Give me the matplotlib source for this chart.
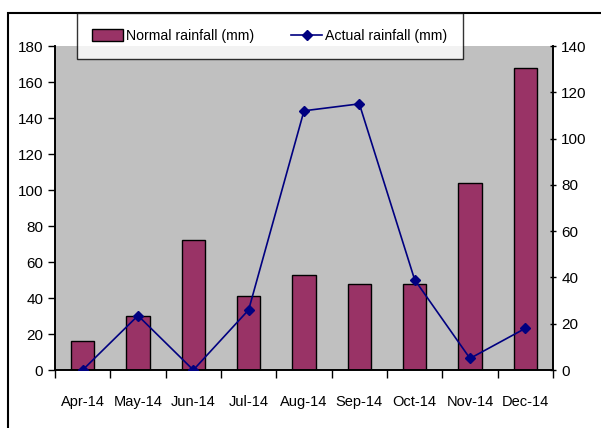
import matplotlib.pyplot as plt
import numpy as np
from matplotlib.patches import Rectangle

months = ['Apr-14', 'May-14', 'Jun-14', 'Jul-14', 'Aug-14', 'Sep-14', 'Oct-14', 'Nov-14', 'Dec-14']
normal_rain = [16, 30, 72, 41, 53, 48, 48, 104, 168]
actual_rain = [0, 23.5, 0, 26, 112, 115, 39, 5, 18]

plt.rcParams['font.family'] = ['Liberation Sans', 'DejaVu Sans']

fig = plt.figure(figsize=(6.01, 4.28), dpi=100)
ax = fig.add_axes([55 / 601, 1 - 370 / 428, (553 - 55) / 601, (370 - 46) / 428])
ax2 = ax.twinx()

x = np.arange(len(months))
bars = ax.bar(x, normal_rain, width=0.42, color='#993366', edgecolor='black',
              linewidth=1, label='Normal rainfall (mm)', zorder=2)
line, = ax2.plot(x, actual_rain, color='#000080', marker='D', markersize=5,
                 linewidth=1.2, label='Actual rainfall (mm)', zorder=3)

ax.set_facecolor('#C0C0C0')
ax.set_xlim(-0.5, len(months) - 0.5)
ax.set_ylim(0, 180)
ax.set_yticks(range(0, 181, 20))
ax2.set_ylim(0, 140)
ax2.set_yticks(range(0, 141, 20))

ax.set_xticks(x)
ax.set_xticklabels(months, fontsize=10.5)
ax.set_xticks(np.arange(-0.5, len(months)), minor=True)
ax.tick_params(axis='x', which='major', length=0, pad=18)
ax.tick_params(axis='x', which='minor', length=6, direction='out', width=1)
ax.tick_params(axis='y', labelsize=11, length=5, width=1, direction='out')
ax2.tick_params(axis='y', labelsize=11, length=5, width=1, direction='inout')

for a in (ax, ax2):
    a.spines['top'].set_visible(False)
    for s in ('left', 'right', 'bottom'):
        a.spines[s].set_linewidth(1.2)

# outer chart frame
fig.patches.append(Rectangle((8 / 601, -0.05), 1.0, 1 - 13 / 428 + 0.05,
                             transform=fig.transFigure, fill=False,
                             edgecolor='black', linewidth=1.5, zorder=0))

leg = fig.legend([bars, line], ['Normal rainfall (mm)', 'Actual rainfall (mm)'],
                 loc='center', bbox_to_anchor=(270 / 601, 1 - 36 / 428), ncol=2,
                 fontsize=10.2, frameon=True, fancybox=False, edgecolor='black',
                 handlelength=2.15, handleheight=0.9, handletextpad=0.25,
                 columnspacing=2.6, borderpad=1.1)
leg.get_frame().set_linewidth(1.0)
leg.set_zorder(10)

fig.savefig('out.png', dpi=100, facecolor='white')
